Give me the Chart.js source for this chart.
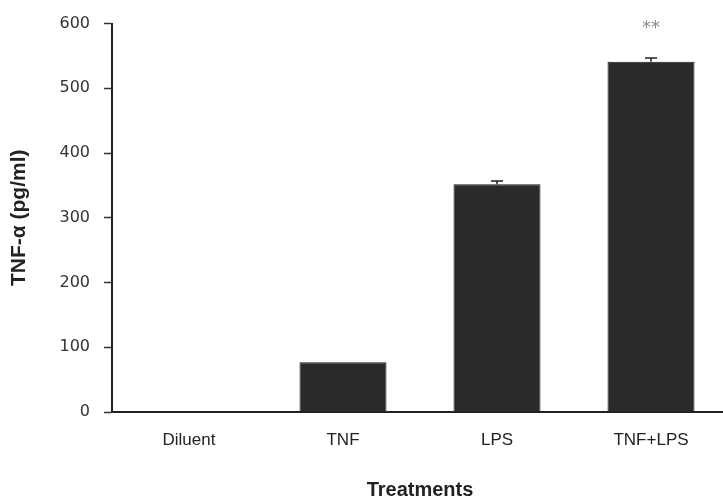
<!DOCTYPE html>
<html>
<head>
<meta charset="utf-8">
<script src="https://cdn.jsdelivr.net/npm/chart.js@4/dist/chart.umd.min.js"></script>
<style>
  html, body { margin: 0; padding: 0; background: #fff; }
  #wrap { width: 723px; height: 502px; overflow: hidden; position: relative; }
  canvas { display: block; }
</style>
</head>
<body>
<div id="wrap"><canvas id="c" width="728" height="502"></canvas></div>
<script>
// TNF-α release per treatment group
const categories = ['Diluent', 'TNF', 'LPS', 'TNF+LPS'];
const tnfValues = [0, 77, 352, 541];
const tnfErrors = [0, 0, 5, 6];
const significance = ['', '', '', '**'];
const yTicks = [0, 100, 200, 300, 400, 500, 600];

// Error bars and significance marks, placed through the chart's own scales
const errorBarPlugin = {
  id: 'errorBars',
  afterDatasetsDraw(chart) {
    const ctx = chart.ctx;
    const meta = chart.getDatasetMeta(0);
    const y = chart.scales.y;
    ctx.save();
    meta.data.forEach((bar, i) => {
      const v = tnfValues[i];
      const e = tnfErrors[i];
      const x = bar.x;
      if (e > 0) {
        const yTop = y.getPixelForValue(v + e);
        const yBot = y.getPixelForValue(v);
        ctx.strokeStyle = '#222';
        ctx.lineWidth = 1.5;
        ctx.beginPath();
        ctx.moveTo(x, yBot);
        ctx.lineTo(x, yTop);
        ctx.moveTo(x - 6, yTop);
        ctx.lineTo(x + 6, yTop);
        ctx.stroke();
      }
      if (significance[i]) {
        ctx.fillStyle = '#8a8a8a';
        ctx.font = '18px "DejaVu Sans"';
        ctx.textAlign = 'center';
        ctx.textBaseline = 'middle';
        ctx.fillText(significance[i], x, y.getPixelForValue(v + e) - 30);
      }
    });
    ctx.restore();
  }
};

new Chart(document.getElementById('c'), {
  type: 'bar',
  data: {
    labels: categories,
    datasets: [{
      data: tnfValues,
      backgroundColor: '#2a2a2a',
      borderColor: '#1a1a1a',
      borderWidth: 1,
      categoryPercentage: 1,
      barPercentage: 0.565
    }]
  },
  options: {
    responsive: false,
    animation: false,
    devicePixelRatio: 1,
    layout: { padding: { top: 21, right: 0, bottom: 0, left: 0 } },
    plugins: { legend: { display: false }, tooltip: { enabled: false } },
    scales: {
      x: {
        afterFit(s) { s.height = 90; },
        grid: { display: true, drawOnChartArea: false, drawTicks: false },
        border: { display: true, color: '#222', width: 2 },
        ticks: {
          color: '#222',
          padding: 18,
          font: { family: '"Liberation Sans", Arial, sans-serif', size: 17 }
        },
        title: {
          display: true,
          text: 'Treatments',
          color: '#222',
          padding: { top: 0, bottom: 0 },
          font: { family: '"Liberation Sans", Arial, sans-serif', size: 20, weight: 'bold' }
        }
      },
      y: {
        min: 0,
        max: 600,
        afterFit(s) { s.width = 112; },
        afterBuildTicks(s) { s.ticks = yTicks.map(v => ({ value: v })); },
        grid: { display: true, drawOnChartArea: false, drawTicks: true, tickLength: 8, tickColor: '#333', tickWidth: 1.5 },
        border: { display: true, color: '#222', width: 2 },
        ticks: {
          color: '#333',
          padding: 14,
          font: { family: '"DejaVu Sans", sans-serif', size: 16 }
        },
        title: {
          display: true,
          text: 'TNF-α (pg/ml)',
          color: '#222',
          padding: { top: 7, bottom: 0 },
          font: { family: '"Liberation Sans", Arial, sans-serif', size: 21, weight: 'bold' }
        }
      }
    }
  },
  plugins: [errorBarPlugin]
});
</script>
</body>
</html>
